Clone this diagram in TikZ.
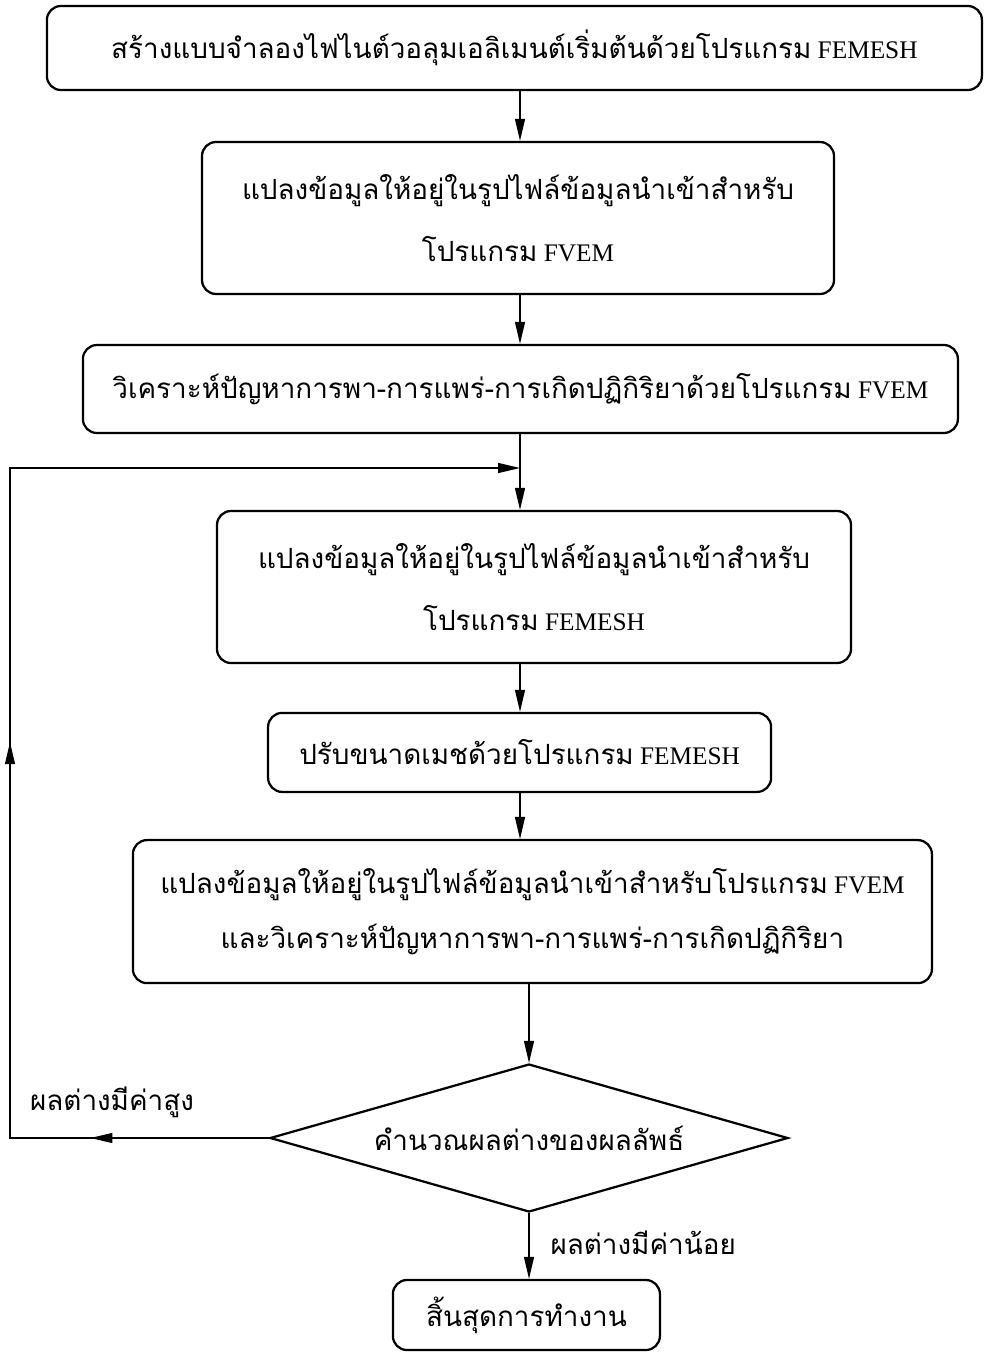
\documentclass[tikz,border=0pt]{standalone}
\usepackage{fontspec}
\setmainfont{Liberation Serif}
\newfontfamily\thaifont[Script=Thai,Scale=1.1]{Loma}
\newcommand{\thtxt}[1]{{\thaifont #1}}
\usetikzlibrary{arrows.meta,shapes.geometric,decorations.markings}

\begin{document}
\begin{tikzpicture}[
  flow/.tip={Triangle[length=0.55cm,width=0.25cm]},
  every node/.style={font=\fontsize{18}{22}\selectfont},
  box/.style={draw, line width=1.6pt, rounded corners=0.35cm, align=center, inner sep=0pt},
  decide/.style={draw, diamond, line width=1.6pt, inner sep=0pt, aspect=3.5},
  link/.style={line width=0.9pt, -{flow}}
]
  \useasboundingbox (0cm,0cm) rectangle (24.6cm,-33.825cm);
  \coordinate (spine) at (13cm,0cm);
  \node[box, minimum width=23.375cm, minimum height=2.1cm] (mesh) at (12.86cm,-1.2cm)
    {\thtxt{สร้างแบบจำลองไฟไนต์วอลุมเอลิเมนต์เริ่มต้นด้วยโปรแกรม} FEMESH};
  \node[box, minimum width=15.8cm, minimum height=3.8cm] (conv1) at (12.95cm,-5.45cm)
    {\thtxt{แปลงข้อมูลให้อยู่ในรูปไฟล์ข้อมูลนำเข้าสำหรับ}\\[20pt] \thtxt{โปรแกรม} FVEM};
  \node[box, minimum width=21.875cm, minimum height=2.2cm] (solve) at (13.01cm,-9.725cm)
    {\thtxt{วิเคราะห์ปัญหาการพา-การแพร่-การเกิดปฏิกิริยาด้วยโปรแกรม} FVEM};
  \node[box, minimum width=15.85cm, minimum height=3.8cm] (conv2) at (13.35cm,-14.675cm)
    {\thtxt{แปลงข้อมูลให้อยู่ในรูปไฟล์ข้อมูลนำเข้าสำหรับ}\\[20pt] \thtxt{โปรแกรม} FEMESH};
  \node[box, minimum width=12.575cm, minimum height=1.975cm] (refine) at (12.99cm,-18.81cm)
    {\thtxt{ปรับขนาดเมชด้วยโปรแกรม} FEMESH};
  \node[box, minimum width=19.975cm, minimum height=3.575cm] (conv3) at (13.31cm,-22.79cm)
    {\thtxt{แปลงข้อมูลให้อยู่ในรูปไฟล์ข้อมูลนำเข้าสำหรับโปรแกรม} FVEM\\[15pt] \thtxt{และวิเคราะห์ปัญหาการพา-การแพร่-การเกิดปฏิกิริยา}};
  \node[decide, minimum width=12.95cm, minimum height=3.7cm] (check) at (13.225cm,-28.45cm)
    {\thtxt{คำนวณผลต่างของผลลัพธ์}};
  \node[box, minimum width=6.675cm, minimum height=1.75cm] (finish) at (13.16cm,-32.875cm)
    {\thtxt{สิ้นสุดการทำงาน}};
  \node (high) at (2.8cm,-27.55cm) {\thtxt{ผลต่างมีค่าสูง}};
  \node (low) at (16.08cm,-31.08cm) {\thtxt{ผลต่างมีค่าน้อย}};

  \coordinate (loopbl) at (0.25cm,-28.45cm);
  \coordinate (looptl) at (0.25cm,-11.7cm);
  \coordinate (join) at (13cm,-11.7cm);

  \draw[link] (mesh.south -| spine) -- (conv1.north -| spine);
  \draw[link] (conv1.south -| spine) -- (solve.north -| spine);
  \draw[link] (solve.south -| spine) -- (conv2.north -| spine);
  \draw[link] (conv2.south -| spine) -- (refine.north -| spine);
  \draw[link] (refine.south -| spine) -- (conv3.north -| spine);
  \draw[link] (check.north |- conv3.south) -- (check.north);
  \draw[link] (check.south) -- (check.south |- finish.north);
  \draw[link, postaction={decorate}, decoration={markings,
      mark=at position 0.124 with {\arrow{flow}},
      mark=at position 0.455 with {\arrow{flow}}}]
    (check.west) -- (loopbl) -- (looptl) -- (join);
\end{tikzpicture}
\end{document}
